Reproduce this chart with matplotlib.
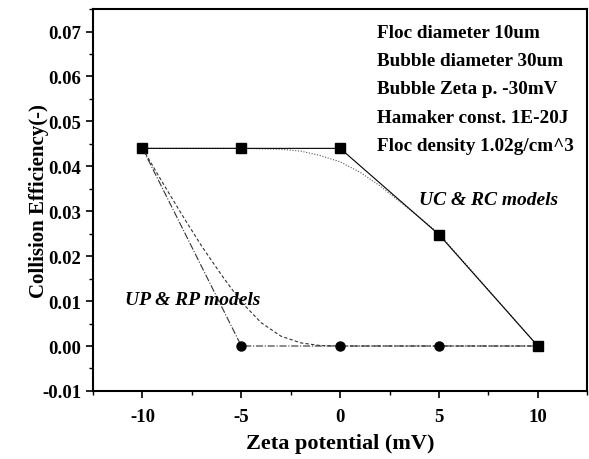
import numpy as np
import matplotlib.pyplot as plt
from matplotlib.ticker import MultipleLocator

plt.rcParams['font.family'] = ['Liberation Serif', 'DejaVu Serif']
plt.rcParams['font.weight'] = 'bold'
plt.rcParams['axes.unicode_minus'] = False

# UC & RC models (squares, solid)
zeta_pts = [-10, -5, 0, 5, 10]
uc_eff = [0.044, 0.044, 0.044, 0.0248, 0.0]
# UP & RP models (circles)
up_x = [-10, -5, 0, 5, 10]
up_eff = [0.044, 0.0, 0.0, 0.0, 0.0]

# smooth model curves
uc_curve_x = [-10, -5, -3, -2, -1, 0, 1, 2, 3, 4, 5, 10]
uc_curve_y = [0.044, 0.044, 0.0438, 0.0434, 0.0424, 0.041, 0.0387, 0.0357, 0.0322, 0.0287, 0.0250, 0.0]
up_curve_x = [-10, -9, -8, -7, -6, -5, -4, -3, -2, -1, 0, 10]
up_curve_y = [0.044, 0.0365, 0.0292, 0.0222, 0.0158, 0.0098, 0.0052, 0.0022, 0.0007, 0.0001, 0.0, 0.0]

info = ["Floc diameter 10um", "Bubble diameter 30um", "Bubble Zeta p. -30mV",
        "Hamaker const. 1E-20J", "Floc density 1.02g/cm^3"]

fig = plt.figure(figsize=(5.89, 4.60), dpi=100)
ax = fig.add_axes([0.158, 0.148, 0.839, 0.830])

ax.plot(uc_curve_x, uc_curve_y, color='#555555', lw=0.8, ls=(0, (1, 1.5)))
ax.plot(up_curve_x, up_curve_y, color='#333333', lw=0.8, ls=(0, (3, 2)))
ax.plot(zeta_pts, uc_eff, color='black', lw=0.8, marker='s', ms=6.5)
ax.plot(up_x, up_eff, color='#333333', lw=0.8, ls='-.', marker='o', ms=6.5, mfc='black', mec='black')

ax.set_xlim(-12.5, 12.5)
ax.set_ylim(-0.01, 0.075)
ax.set_xticks([-10, -5, 0, 5, 10])
ax.set_yticks(np.arange(-0.01, 0.071, 0.01))
ax.set_yticklabels(['%.2f' % v for v in np.arange(-0.01, 0.071, 0.01)])
ax.xaxis.set_minor_locator(MultipleLocator(2.5))
ax.yaxis.set_minor_locator(MultipleLocator(0.005))
ax.tick_params(which='major', direction='out', length=5, width=1.2, labelsize=13.5)
ax.tick_params(axis='x', which='major', pad=7)
ax.tick_params(which='minor', direction='out', length=3, width=1.0)
for s in ax.spines.values():
    s.set_linewidth(1.5)

ax.set_xlabel("Zeta potential (mV)", fontsize=16, fontweight='bold')
ax.set_ylabel("Collision Efficiency(-)", fontsize=15, fontweight='bold')
ax.xaxis.set_label_coords(0.5, -0.11)
ax.yaxis.set_label_coords(-0.09, 0.5)

for i, line in enumerate(info):
    ax.text(0.575, 0.94 - i * 0.0745, line, transform=ax.transAxes,
            fontsize=13.8, fontweight='bold', va='center')

ax.text(7.5, 0.0327, "UC & RC models", fontsize=14, fontweight='bold',
        style='italic', ha='center', va='center')
ax.text(-7.45, 0.0104, "UP & RP models", fontsize=14, fontweight='bold',
        style='italic', ha='center', va='center')

fig.savefig('out.png')
